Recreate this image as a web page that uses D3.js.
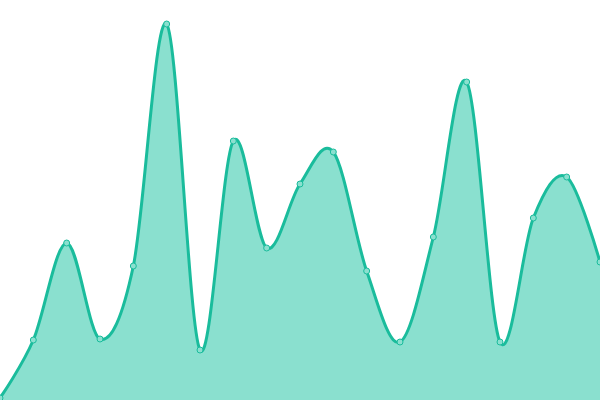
<!DOCTYPE html>
<html><head><meta charset="utf-8">
<script src="https://cdn.jsdelivr.net/npm/d3@7"></script>
<style>html,body{margin:0;padding:0;background:#fff;overflow:hidden}</style>
</head><body>
<svg id="chart" width="600" height="400"></svg>
<script>
const categories = d3.range(19).map(i => "P" + (i + 1));
const values = [2, 60, 157, 61, 134, 376, 50, 259, 152, 216, 248, 129, 58, 163, 318, 58, 182, 223, 138];

const W = 600, H = 400;
const svg = d3.select("#chart");
const x = d3.scalePoint().domain(categories).range([0, W]);
const y = d3.scaleLinear().domain([0, 400]).range([H, 0]);
const data = categories.map((c, i) => ({c, v: values[i]}));

const curve = d3.curveCardinal;
svg.append("path").datum(data)
  .attr("fill", "#8ae0cf")
  .attr("d", d3.area().x(d => x(d.c)).y0(H).y1(d => y(d.v)).curve(curve));
svg.append("path").datum(data)
  .attr("fill", "none").attr("stroke", "#1abc9c").attr("stroke-width", 3)
  .attr("d", d3.line().x(d => x(d.c)).y(d => y(d.v)).curve(curve));
svg.selectAll("circle").data(data).join("circle")
  .attr("cx", d => x(d.c)).attr("cy", d => y(d.v)).attr("r", 3)
  .attr("fill", "#8ae0cf").attr("stroke", "#1abc9c").attr("stroke-width", 1);
</script>
</body></html>
